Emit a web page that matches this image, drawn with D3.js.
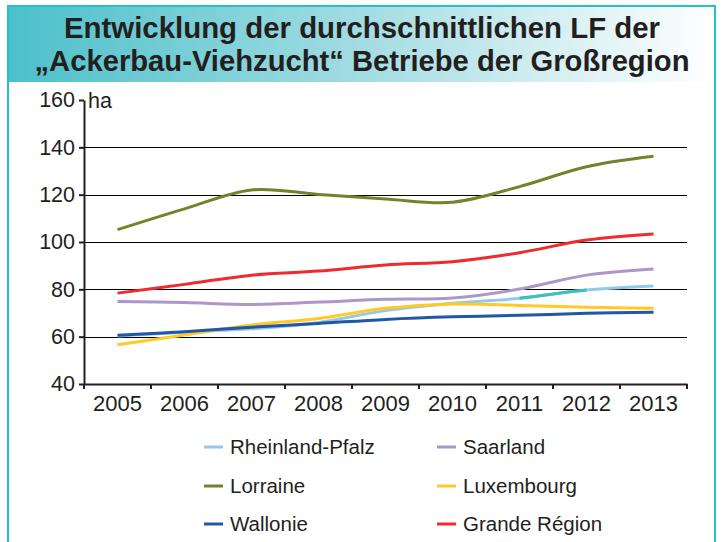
<!DOCTYPE html>
<html>
<head>
<meta charset="utf-8">
<script src="https://cdn.jsdelivr.net/npm/d3@7"></script>
<style>
  body { margin: 0; background: #fff; }
  svg { display: block; font-family: "Liberation Sans", Arial, sans-serif; }
</style>
</head>
<body>
<div class="chart"></div>
<script>
var width = 726;
var height = 542;

var years = ["2005", "2006", "2007", "2008", "2009", "2010", "2011", "2012", "2013"];
var yTicks = [40, 60, 80, 100, 120, 140, 160];
var gridTicks = [60, 80, 100, 120, 140];

var rheinlandPfalz = [60.3, 61.9, 63.3, 66.0, 71.0, 74.1, 76.2, 79.7, 81.4];
var saarland = [74.9, 74.4, 73.6, 74.6, 75.8, 76.3, 80.1, 86.0, 88.6];
var lorraine = [105.2, 114.0, 122.0, 120.1, 118.2, 116.8, 123.4, 131.8, 136.2];
var luxembourg = [56.6, 60.7, 64.9, 67.7, 72.0, 73.8, 73.2, 72.4, 72.0];
var wallonie = [60.6, 62.1, 64.0, 65.6, 67.3, 68.4, 69.0, 69.9, 70.3];
var grandeRegion = [78.4, 82.1, 86.0, 87.7, 90.3, 91.7, 95.5, 100.8, 103.4];

// series in drawing order (legend is row-wise, two columns)
var series = [
  { name: "Rheinland-Pfalz", values: rheinlandPfalz, color: "#92c9ec" },
  { name: "Saarland", values: saarland, color: "#ab97ca" },
  { name: "Lorraine", values: lorraine, color: "#77812c" },
  { name: "Luxembourg", values: luxembourg, color: "#ffc928" },
  { name: "Wallonie", values: wallonie, color: "#2057a8" },
  { name: "Grande Région", values: grandeRegion, color: "#ee2b2e" }
];

var svg = d3
  .select(".chart")
  .append("svg")
  .attr("width", width)
  .attr("height", height);

// title band with gradient
var grad = svg
  .append("defs")
  .append("linearGradient")
  .attr("id", "band")
  .attr("x1", "0%")
  .attr("x2", "100%");
grad.append("stop").attr("offset", "0%").attr("stop-color", "#4cc0ca");
grad.append("stop").attr("offset", "50%").attr("stop-color", "#a3dce2");
grad.append("stop").attr("offset", "100%").attr("stop-color", "#ffffff");

svg
  .append("rect")
  .attr("x", 9)
  .attr("y", 7)
  .attr("width", 705)
  .attr("height", 75)
  .attr("fill", "url(#band)");

svg
  .append("rect")
  .attr("x", 8)
  .attr("y", 6)
  .attr("width", 707)
  .attr("height", 600)
  .attr("fill", "none")
  .attr("stroke", "#22c2cc")
  .attr("stroke-width", 2);

var titleLines = [
  { text: "Entwicklung der durchschnittlichen LF der", y: 38, w: 596 },
  { text: "\u201EAckerbau-Viehzucht\u201C Betriebe der Gro\u00DFregion", y: 71, w: 655 }
];

svg
  .selectAll(".title")
  .data(titleLines)
  .enter()
  .append("text")
  .attr("class", "title")
  .attr("x", 362)
  .attr("y", function (d) {
    return d.y;
  })
  .attr("text-anchor", "middle")
  .attr("textLength", function (d) {
    return d.w;
  })
  .attr("lengthAdjust", "spacingAndGlyphs")
  .style("font-size", "29px")
  .style("font-weight", "bold")
  .style("fill", "#231f20")
  .text(function (d) {
    return d.text;
  });

// scales
var x = d3.scaleBand().domain(years).range([84, 687]);
var y = d3.scaleLinear().domain([40, 160]).range([384, 100]);

function cx(d) {
  return x(d) + x.bandwidth() / 2;
}

// grid
svg
  .append("g")
  .selectAll("line")
  .data(gridTicks)
  .enter()
  .append("line")
  .attr("x1", 84)
  .attr("x2", 687)
  .attr("y1", function (d) {
    return Math.round(y(d)) + 0.5;
  })
  .attr("y2", function (d) {
    return Math.round(y(d)) + 0.5;
  })
  .attr("stroke", "#000")
  .attr("stroke-width", 1);

// y axis
var yAxis = svg
  .append("g")
  .attr("transform", "translate(84,0)")
  .call(d3.axisLeft(y).tickValues(yTicks).tickSize(5).tickSizeOuter(0).tickPadding(4));
yAxis.select(".domain").attr("stroke", "#231f20").attr("stroke-width", 2);
yAxis.selectAll(".tick line").attr("stroke", "#231f20").attr("stroke-width", 2);
yAxis
  .selectAll(".tick text")
  .style("font-size", "21.5px")
  .style("font-family", "Liberation Sans, Arial, sans-serif")
  .attr("fill", "#231f20");

svg
  .append("text")
  .attr("x", 88)
  .attr("y", y(160))
  .attr("dy", "0.36em")
  .style("font-size", "21.5px")
  .style("fill", "#231f20")
  .text("ha");

// x axis
var xAxis = svg
  .append("g")
  .attr("transform", "translate(0,384)")
  .call(d3.axisBottom(x).tickSize(0).tickPadding(11));
xAxis.select(".domain").attr("stroke", "#231f20").attr("stroke-width", 2);
xAxis
  .selectAll(".tick text")
  .style("font-size", "22px")
  .style("font-family", "Liberation Sans, Arial, sans-serif")
  .attr("fill", "#231f20");

var bounds = years.map(function (d) {
  return x(d);
}).concat([x.range()[1]]);

xAxis
  .selectAll(".bound")
  .data(bounds)
  .enter()
  .append("line")
  .attr("class", "bound")
  .attr("x1", function (d) {
    return d;
  })
  .attr("x2", function (d) {
    return d;
  })
  .attr("y1", 0)
  .attr("y2", 5)
  .attr("stroke", "#231f20")
  .attr("stroke-width", 2);

// lines
var line = d3
  .line()
  .x(function (d, i) {
    return cx(years[i]);
  })
  .y(function (d) {
    return y(d);
  })
  .curve(d3.curveCatmullRom.alpha(0.5));

svg
  .append("clipPath")
  .attr("id", "seg")
  .append("rect")
  .attr("x", cx("2011"))
  .attr("y", 0)
  .attr("width", cx("2012") - cx("2011"))
  .attr("height", height);

series.forEach(function (s) {
  svg
    .append("path")
    .datum(s.values)
    .attr("d", line)
    .attr("fill", "none")
    .attr("stroke", s.color)
    .attr("stroke-width", 3)
    .attr("stroke-linecap", "butt");
  if (s.name === "Rheinland-Pfalz") {
    svg
      .append("path")
      .datum(s.values)
      .attr("d", line)
      .attr("clip-path", "url(#seg)")
      .attr("fill", "none")
      .attr("stroke", "#3dbfbe")
      .attr("stroke-width", 3);
  }
});

// legend
var legend = svg
  .append("g")
  .selectAll("g")
  .data(series)
  .enter()
  .append("g")
  .attr("transform", function (d, i) {
    var col = i % 2;
    var row = Math.floor(i / 2);
    return "translate(" + (col ? 437 : 204) + "," + [447, 486, 524][row] + ")";
  });

legend
  .append("line")
  .attr("x1", 0)
  .attr("x2", 19)
  .attr("stroke", function (d) {
    return d.color;
  })
  .attr("stroke-width", 3);

legend
  .append("text")
  .attr("x", 26)
  .attr("dy", "0.36em")
  .style("font-size", "20.5px")
  .style("fill", "#231f20")
  .text(function (d) {
    return d.name;
  });
</script>
</body>
</html>
